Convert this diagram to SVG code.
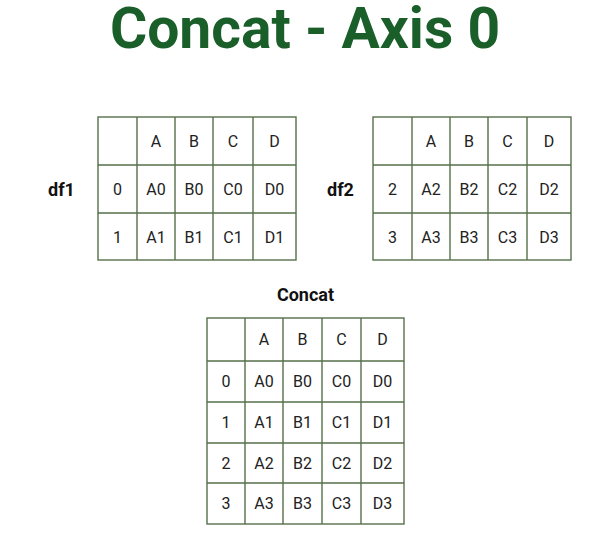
<svg xmlns="http://www.w3.org/2000/svg" width="603" height="543" viewBox="0 0 603 543">
<style>
.g{fill:none;stroke:#56704b;stroke-width:1.4}
.c{font-family:Roboto,"Liberation Sans",sans-serif;font-size:16px;fill:#222;text-anchor:middle}
.l{font-family:Roboto,"Liberation Sans",sans-serif;font-size:18px;font-weight:bold;fill:#111}
.t{font-family:Roboto,"Liberation Sans",sans-serif;font-size:57px;font-weight:bold;fill:#1a5f2a;text-anchor:middle}
</style>
<rect width="603" height="543" fill="#fff"/>
<g id="title"><text class="t" x="305" y="48">Concat - Axis 0</text></g>
<g id="df1">
<text class="l" x="48" y="196">df1</text>
<rect class="g" x="98" y="117" width="198" height="143"/>
<path class="g" d="M137,117V260M175,117V260M213,117V260M253,117V260M98,165H296M98,213H296"/>
<text class="c" x="156" y="147">A</text><text class="c" x="194" y="147">B</text><text class="c" x="233" y="147">C</text><text class="c" x="274.5" y="147">D</text>
<text class="c" x="117.5" y="195">0</text><text class="c" x="156" y="195">A0</text><text class="c" x="194" y="195">B0</text><text class="c" x="233" y="195">C0</text><text class="c" x="274.5" y="195">D0</text>
<text class="c" x="117.5" y="242.5">1</text><text class="c" x="156" y="242.5">A1</text><text class="c" x="194" y="242.5">B1</text><text class="c" x="233" y="242.5">C1</text><text class="c" x="274.5" y="242.5">D1</text>
</g>
<g id="df2">
<text class="l" x="327" y="196">df2</text>
<rect class="g" x="373" y="117" width="198" height="143"/>
<path class="g" d="M412,117V260M450,117V260M488,117V260M527,117V260M373,165H571M373,213H571"/>
<text class="c" x="431" y="147">A</text><text class="c" x="469" y="147">B</text><text class="c" x="507.5" y="147">C</text><text class="c" x="549" y="147">D</text>
<text class="c" x="392.5" y="195">2</text><text class="c" x="431" y="195">A2</text><text class="c" x="469" y="195">B2</text><text class="c" x="507.5" y="195">C2</text><text class="c" x="549" y="195">D2</text>
<text class="c" x="392.5" y="242.5">3</text><text class="c" x="431" y="242.5">A3</text><text class="c" x="469" y="242.5">B3</text><text class="c" x="507.5" y="242.5">C3</text><text class="c" x="549" y="242.5">D3</text>
</g>
<g id="concat">
<text class="l" x="305.5" y="301" text-anchor="middle">Concat</text>
<rect class="g" x="207" y="318" width="197" height="206"/>
<path class="g" d="M245,318V524M283,318V524M322,318V524M361,318V524M207,361H404M207,402H404M207,443H404M207,483H404"/>
<text class="c" x="264" y="345">A</text><text class="c" x="302.5" y="345">B</text><text class="c" x="341.5" y="345">C</text><text class="c" x="382.5" y="345">D</text>
<text class="c" x="226" y="387">0</text><text class="c" x="264" y="387">A0</text><text class="c" x="302.5" y="387">B0</text><text class="c" x="341.5" y="387">C0</text><text class="c" x="382.5" y="387">D0</text>
<text class="c" x="226" y="428">1</text><text class="c" x="264" y="428">A1</text><text class="c" x="302.5" y="428">B1</text><text class="c" x="341.5" y="428">C1</text><text class="c" x="382.5" y="428">D1</text>
<text class="c" x="226" y="468.5">2</text><text class="c" x="264" y="468.5">A2</text><text class="c" x="302.5" y="468.5">B2</text><text class="c" x="341.5" y="468.5">C2</text><text class="c" x="382.5" y="468.5">D2</text>
<text class="c" x="226" y="509">3</text><text class="c" x="264" y="509">A3</text><text class="c" x="302.5" y="509">B3</text><text class="c" x="341.5" y="509">C3</text><text class="c" x="382.5" y="509">D3</text>
</g>
</svg>
